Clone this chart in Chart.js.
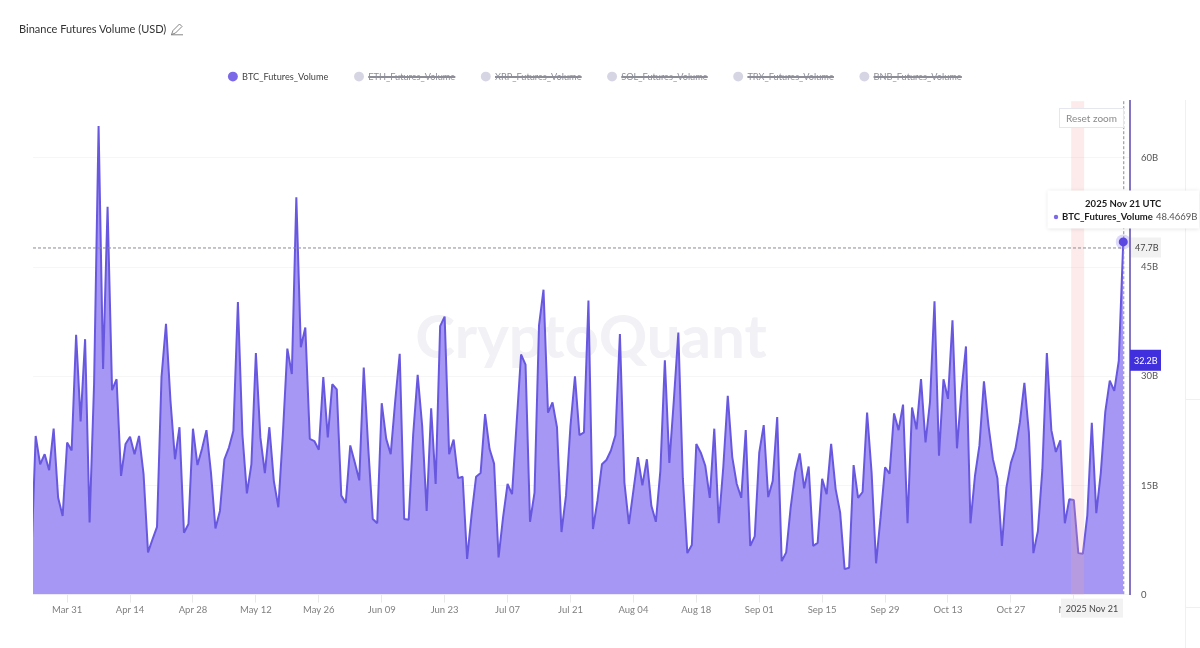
<!DOCTYPE html>
<html>
<head>
<meta charset="utf-8">
<title>Binance Futures Volume (USD)</title>
<script src="https://cdn.jsdelivr.net/npm/chart.js@4/dist/chart.umd.min.js"></script>
<style>
	html, body { margin: 0; padding: 0; background: #fff; }
	#wrap { position: relative; width: 1200px; height: 648px; overflow: hidden; }
	#myChart { position: absolute; left: 0; top: 0; }
	#heading { position: absolute; left: 19px; top: 22px; font: 11px Lato, sans-serif; color: #333; white-space: nowrap; }
	#heading svg { vertical-align: -3px; margin-left: 1px; }
</style>
</head>
<body>
<div id="wrap">
	<canvas id="myChart" width="1200" height="648"></canvas>
	<div id="heading">Binance Futures Volume (USD)
		<svg width="14" height="14" viewBox="0 0 14 14" fill="none" stroke="#777" stroke-width="0.9"><path d="M1.5 12.5 L3 8.5 L9.5 2 L12 4.5 L5.5 11 Z M1 12.8 H13"/></svg>
	</div>
</div>
<script>
const FONT = 'Lato, sans-serif';

// hidden series only show up in the legend
const seriesNames = ["BTC_Futures_Volume", "ETH_Futures_Volume", "XRP_Futures_Volume", "SOL_Futures_Volume", "TRX_Futures_Volume", "BNB_Futures_Volume"];

// x values are days since Mar 23 2025, one point per day
const xTickDays = [8, 22, 36, 50, 64, 78, 92, 106, 120, 134, 148, 162, 176, 190, 204, 218, 232];
const xTickLabels = ["Mar 31", "Apr 14", "Apr 28", "May 12", "May 26", "Jun 09", "Jun 23", "Jul 07", "Jul 21", "Aug 04", "Aug 18", "Sep 01", "Sep 15", "Sep 29", "Oct 13", "Oct 27", "Nov 10"];
const yTickValues = [0, 15, 30, 45, 60];

// BTC futures volume in billions USD
const btcVolume = [
	4.6, 21.8, 17.9, 19.3, 17.1, 22.8, 13.3, 10.8, 20.9, 19.8, 35.7, 23.8, 35.1, 9.9, 29, 64.4, 31, 53.3, 28.1, 29.6,
	16.3, 20.7, 21.7, 19.3, 21.8, 16.6, 5.8, 7.6, 9.3, 29.9, 37.2, 26.6, 18.6, 23, 8.5, 9.7, 22.8, 17.8, 20, 22.6,
	16.8, 9.1, 11.5, 18.6, 20.2, 22.5, 40.2, 22, 13.9, 17.9, 33.2, 21.6, 16.7, 23, 15.6, 12, 22, 33.8, 30.3, 54.6,
	34, 36.7, 21.4, 21.1, 19.9, 29.9, 21.6, 28.9, 28.2, 13.6, 12.6, 20.5, 18.2, 15.7, 31.2, 20.2, 10.4, 9.8, 26.3, 21.4,
	19.3, 26.6, 33.1, 10.4, 10.3, 22, 30.2, 23.2, 11.5, 25.6, 15.2, 36.9, 38.2, 19.3, 21.3, 16, 16.2, 4.9, 11, 16.2,
	16.7, 24.8, 20, 18, 5.1, 10.6, 15.2, 13.8, 23.4, 33, 31.6, 10, 14, 37, 41.9, 25, 26.4, 23, 8.6, 13.6,
	23.2, 30, 21.9, 22.3, 40.4, 9, 12.9, 17.9, 18.5, 19.8, 21.9, 35.8, 15.4, 9.7, 14.3, 18.9, 15, 18.6, 12.2, 10,
	17, 32.2, 18.1, 26.7, 36, 16, 5.7, 6.8, 20.7, 19.5, 17.7, 13.3, 22.8, 9.8, 17.5, 27.3, 18.9, 15.2, 13.3, 22.6,
	6.7, 8, 19.5, 23.3, 13.4, 15.6, 24.4, 4.6, 5.8, 12, 16.8, 19.4, 14.6, 17.6, 6.7, 7.1, 15.9, 13.8, 20.7, 14.5,
	11.3, 3.5, 3.7, 17.8, 13.3, 14.1, 25, 16.8, 4.3, 10.6, 17.5, 16.6, 24.9, 22.6, 26.1, 9.8, 25.7, 22.7, 29.6, 20.9,
	26.5, 40.3, 19.1, 29.6, 26.9, 37.7, 20.1, 28, 34.1, 9.8, 16.3, 20.5, 29.3, 23.3, 18.6, 16, 6.7, 14.7, 18.1, 20,
	23.7, 29.1, 22.3, 5.7, 8.7, 17.2, 33.2, 22.6, 19.6, 21.2, 9.8, 13.1, 13, 5.7, 5.6, 10.9, 23.6, 11.2, 16.7, 25.1,
	29.4, 28, 32.1, 48.4669
];

const crosshairValue = 47.7;
const lastValueTag = 32.2;
const bandFromDay = 231.4;
const bandToDay = 234.3;
const hoverDateLabel = "2025 Nov 21";

const LINE_COLOR = "#6858e0";
const FILL_COLOR = "#a597f3";

const lastIndex = btcVolume.length - 1;

const datasets = seriesNames.map((name, i) => {
	if (i > 0) return { label: name, data: [], hidden: true, backgroundColor: "#d6d5e3" };
	return {
		label: name,
		data: btcVolume.map((v, day) => ({ x: day, y: v })),
		borderColor: LINE_COLOR,
		backgroundColor: FILL_COLOR,
		borderWidth: 2,
		borderJoinStyle: "bevel",
		fill: "origin",
		tension: 0,
		pointRadius: 0,
	};
});

function textBox(ctx, x, y, w, h, bg, text, color, font, align) {
	ctx.fillStyle = bg;
	ctx.fillRect(x, y, w, h);
	ctx.fillStyle = color;
	ctx.font = font;
	ctx.textBaseline = "middle";
	ctx.textAlign = align || "center";
	ctx.fillText(text, align === "left" ? x + 4 : x + w / 2, y + h / 2 + 0.5);
}

// big pale logo text sits behind the area
const watermark = {
	id: "watermark",
	beforeDatasetsDraw(chart) {
		const ctx = chart.ctx;
		ctx.save();
		ctx.fillStyle = "#f1f1f6";
		ctx.font = 'bold 60px Lato, sans-serif';
		ctx.textAlign = "center";
		ctx.textBaseline = "alphabetic";
		ctx.fillText("CryptoQuant", 591, 358);
		ctx.restore();
	},
};

// crosshair, tags, reset button and tooltip of the hovered point
const overlays = {
	id: "overlays",
	afterDatasetsDraw(chart) {
		const ctx = chart.ctx;
		const { x, y } = chart.scales;
		const area = chart.chartArea;
		const px = x.getPixelForValue(lastIndex);
		const hy = y.getPixelForValue(crosshairValue);
		ctx.save();

		// faint panel lines on the far right
		ctx.strokeStyle = "#f0f0f2";
		ctx.lineWidth = 1;
		ctx.beginPath();
		ctx.moveTo(1185.5, 100);
		ctx.lineTo(1185.5, 648);
		ctx.moveTo(1185.5, 399.5);
		ctx.lineTo(1200, 399.5);
		ctx.moveTo(1185.5, 607.5);
		ctx.lineTo(1200, 607.5);
		ctx.stroke();

		// highlighted day band
		const b0 = x.getPixelForValue(bandFromDay);
		const b1 = x.getPixelForValue(bandToDay);
		ctx.fillStyle = "rgba(246,170,170,0.23)";
		ctx.fillRect(b0, area.top, b1 - b0, area.bottom - area.top);

		ctx.strokeStyle = "#8a8a94";
		ctx.lineWidth = 1;
		ctx.setLineDash([3, 2]);
		ctx.beginPath();
		ctx.moveTo(area.left, hy + 0.5);
		ctx.lineTo(px, hy + 0.5);
		ctx.moveTo(px + 0.5, area.top);
		ctx.lineTo(px + 0.5, area.bottom);
		ctx.stroke();
		ctx.setLineDash([]);

		// hover point over the crosshair
		const pt = chart.getDatasetMeta(0).data[lastIndex];
		ctx.beginPath();
		ctx.fillStyle = "rgba(120,105,235,0.25)";
		ctx.arc(pt.x, pt.y, 7.5, 0, Math.PI * 2);
		ctx.fill();
		ctx.beginPath();
		ctx.fillStyle = "#5a48e0";
		ctx.arc(pt.x, pt.y, 4.5, 0, Math.PI * 2);
		ctx.fill();

		// reset zoom button
		ctx.fillStyle = "#fff";
		ctx.fillRect(1059.5, 108.5, 64, 19);
		ctx.strokeStyle = "#e6e6ee";
		ctx.strokeRect(1059.5, 108.5, 64, 19);
		ctx.fillStyle = "#8a8a8a";
		ctx.font = "10px " + FONT;
		ctx.textAlign = "center";
		ctx.textBaseline = "middle";
		ctx.fillText("Reset zoom", 1091.5, 118.5);

		// axis tags
		const tagFont = "9px " + FONT;
		textBox(ctx, area.right + 1, hy - 10, 30, 20, "#f1f1f1", crosshairValue + "B", "#444", tagFont, "left");
		const ty = y.getPixelForValue(lastValueTag);
		textBox(ctx, area.right, ty - 10.5, 31, 21, "#3f2fdc", lastValueTag + "B", "#fff", tagFont, "left");
		textBox(ctx, 1061, area.bottom + 4, 62, 19, "#f2f2f2", hoverDateLabel, "#444", "9px " + FONT);

		// tooltip
		ctx.shadowColor = "rgba(0,0,0,0.12)";
		ctx.shadowBlur = 4;
		ctx.fillStyle = "#fff";
		ctx.fillRect(1047.5, 190.5, 151.5, 38);
		ctx.shadowBlur = 0;
		ctx.shadowColor = "transparent";
		ctx.fillStyle = "#1c1c1c";
		ctx.font = "bold 9.5px " + FONT;
		ctx.textAlign = "center";
		ctx.fillText(hoverDateLabel + " UTC", px, 204);
		ctx.textAlign = "left";
		ctx.fillText(seriesNames[0], 1062, 217);
		ctx.fillStyle = "#555";
		ctx.font = "9.5px " + FONT;
		ctx.fillText(btcVolume[lastIndex].toFixed(4) + "B", 1156, 217);
		ctx.beginPath();
		ctx.fillStyle = "#7b69e8";
		ctx.arc(1056, 217, 2.2, 0, Math.PI * 2);
		ctx.fill();

		ctx.restore();
	},
};

// pushes the plot down from the legend row and centres the legend on 594
const legendGap = {
	id: "legendGap",
	beforeInit(chart) {
		const fit = chart.legend.fit;
		chart.legend.fit = function () {
			fit.call(this);
			this.height += 10;
		};
	},
	afterLayout(chart) {
		chart.legend.left = 0;
		chart.legend.right = 1190;
	},
};

const ctx = document.getElementById("myChart").getContext("2d");
new Chart(ctx, {
	type: "line",
	data: { datasets },
	plugins: [watermark, overlays, legendGap],
	options: {
		responsive: false,
		animation: false,
		events: [],
		layout: { padding: { left: 33, right: 0, top: 46, bottom: 30 } },
		plugins: {
			tooltip: { enabled: false },
			legend: {
				position: "top",
				labels: {
					usePointStyle: true,
					pointStyle: "circle",
					boxHeight: 7,
					padding: 26,
					font: { family: FONT, size: 9.2 },
					color: "#444",
					generateLabels(chart) {
						const items = Chart.defaults.plugins.legend.labels.generateLabels(chart);
						return items.map((it) => ({
							...it,
							fillStyle: it.hidden ? "#d6d5e3" : "#7b69e8",
							strokeStyle: "transparent",
							lineWidth: 0,
							fontColor: it.hidden ? "#8d8d98" : "#444",
						}));
					},
				},
			},
		},
		scales: {
			x: {
				type: "linear",
				min: 0.406,
				max: 244.5,
				border: { display: false },
				grid: { drawOnChartArea: false, tickLength: 8, tickColor: "#e9e9e9" },
				afterBuildTicks(scale) {
					scale.ticks = xTickDays.map((d) => ({ value: d }));
				},
				ticks: {
					autoSkip: false,
					maxRotation: 0,
					padding: 2,
					color: "#808080",
					font: { family: FONT, size: 9.5 },
					callback: (value) => xTickLabels[xTickDays.indexOf(value)],
				},
			},
			y: {
				position: "right",
				min: 0,
				max: 67.8,
				border: { color: "#8475c4", width: 2 },
				grid: { color: "#f6f6f6", drawTicks: false },
				afterFit(scale) {
					scale.width = 70;
				},
				afterBuildTicks(scale) {
					scale.ticks = yTickValues.map((v) => ({ value: v }));
				},
				ticks: {
					padding: 11,
					color: "#555",
					font: { family: FONT, size: 9.5 },
					callback: (value) => (value === 0 ? "0" : value + "B"),
				},
			},
		},
	},
});
</script>
</body>
</html>
